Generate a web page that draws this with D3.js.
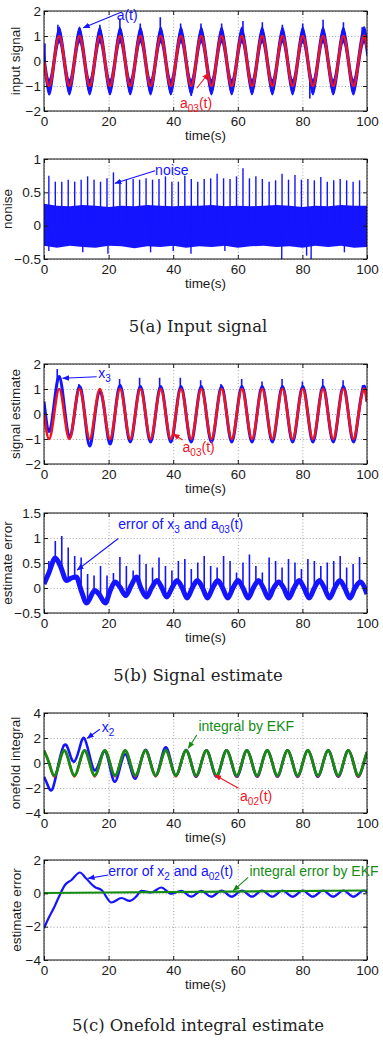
<!DOCTYPE html>
<html>
<head>
<meta charset="utf-8">
<script src="https://cdn.jsdelivr.net/npm/d3@7"></script>
<style>
  body { margin: 0; background: #fff; }
  svg text { font-family: "Liberation Sans", Arial, sans-serif; }
  svg text.caption { font-family: "DejaVu Serif", serif; }
</style>
</head>
<body>
<div id="chart"></div>
<script>
// ---- data ----
const xTicks = [0, 20, 40, 60, 80, 100];

// quarter-period sample times (s)
const tQuarter = [0, 1.57, 3.14, 4.71, 6.28, 7.85, 9.42, 11.0, 12.57, 14.14, 15.71, 17.28, 18.85, 20.42, 21.99, 23.56,
  25.13, 26.7, 28.27, 29.85, 31.42, 32.99, 34.56, 36.13, 37.7, 39.27, 40.84, 42.41, 43.98, 45.55, 47.12, 48.69,
  50.27, 51.84, 53.41, 54.98, 56.55, 58.12, 59.69, 61.26, 62.83, 64.4, 65.97, 67.54, 69.12, 70.69, 72.26, 73.83,
  75.4, 76.97, 78.54, 80.11, 81.68, 83.25, 84.82, 86.39, 87.96, 89.54, 91.11, 92.68, 94.25, 95.82, 97.39, 98.96, 100];

// a03(t), reference signal (panels a and b)
const a03Vals = [0, -1, 0, 1, 0, -1, 0, 1, 0, -1, 0, 1, 0, -1, 0, 1,
  0, -1, 0, 1, 0, -1, 0, 1, 0, -1, 0, 1, 0, -1, 0, 1,
  0, -1, 0, 1, 0, -1, 0, 1, 0, -1, 0, 1, 0, -1, 0, 1,
  0, -1, 0, 1, 0, -1, 0, 1, 0, -1, 0, 1, 0, -1, 0, 1, 0.5];

// a(t), noisy input centre line
const aVals = [0.1, -1.05, 0, 1.05, 0, -1.05, 0, 1.05, 0, -1.05, 0, 1.05, 0, -1.05, 0, 1.05,
  0, -1.05, 0, 1.05, 0, -1.05, 0, 1.05, 0, -1.05, 0, 1.05, 0, -1.05, 0, 1.05,
  0, -1.05, 0, 1.05, 0, -1.05, 0, 1.05, 0, -1.05, 0, 1.05, 0, -1.05, 0, 1.05,
  0, -1.05, 0, 1.05, 0, -1.05, 0, 1.05, 0, -1.05, 0, 1.05, 0, -1.05, 0, 1.05, 0.5];
const aNoiseHalf = 0.3;
const p1SpikeT = [0.3, 4.3, 11.0, 17.3, 23.5, 29.8, 36.0, 42.3, 48.6, 55.0, 61.6, 67.6, 73.8, 80.1, 86.4, 92.7, 98.5];
const p1SpikeTop = [0.7, 1.45, 1.3, 1.45, 1.7, 1.5, 1.75, 1.5, 1.5, 1.5, 1.6, 1.55, 1.45, 1.5, 1.65, 1.55, 1.35];
const p1DipT = [45.6, 82.3];
const p1DipBottom = [-1.4, -1.5];

// noise
const noiseT = [0, 4, 8, 12, 16, 20, 24, 28, 32, 36, 40, 44, 48, 52, 56, 60, 64, 68, 72, 76, 80, 84, 88, 92, 96, 100];
const noiseTop = [0.33, 0.3, 0.29, 0.31, 0.3, 0.28, 0.3, 0.29, 0.31, 0.3, 0.29, 0.3, 0.3, 0.31, 0.29, 0.3, 0.29, 0.3, 0.31, 0.3, 0.28, 0.3, 0.29, 0.31, 0.3, 0.3];
const noiseBottom = [-0.3, -0.33, -0.3, -0.32, -0.33, -0.3, -0.31, -0.34, -0.31, -0.32, -0.3, -0.33, -0.31, -0.32, -0.3, -0.33, -0.31, -0.3, -0.32, -0.31, -0.33, -0.3, -0.32, -0.3, -0.33, -0.32];
const spikeT = [1.5, 3.5, 5.5, 7.5, 9.5, 11.5, 13.5, 15.5, 17.5, 19.5, 21.5, 23.5, 25.5, 27.6, 29.6, 31.6, 33.6, 35.6,
  37.6, 39.6, 41.6, 43.6, 45.6, 47.6, 49.6, 51.6, 53.6, 55.6, 57.6, 59.6, 61.6, 63.6, 65.6, 67.6, 69.7, 71.7,
  73.7, 75.7, 77.7, 79.7, 81.7, 83.7, 85.7, 87.7, 89.7, 91.7, 93.7, 95.7, 97.7];
const noiseSpikeTop = [0.75, 0.66, 0.66, 0.69, 0.66, 0.69, 0.74, 0.69, 0.66, 0.71, 0.8, 0.66, 0.69, 0.7, 0.69, 0.71,
  0.69, 0.7, 0.74, 0.66, 0.66, 0.75, 0.7, 0.66, 0.7, 0.71, 0.78, 0.71, 0.7, 0.74, 0.86, 0.71, 0.74, 0.7, 0.66,
  0.68, 0.78, 0.69, 0.76, 0.69, 0.7, 0.68, 0.73, 0.66, 0.68, 0.7, 0.68, 0.66, 0.68];
const noiseDipT = [1.5, 12.0, 19.8, 33.0, 40.0, 45.5, 56.0, 73.6, 81.3, 82.7, 93.0];
const noiseDipBottom = [-0.38, -0.4, -0.42, -0.4, -0.38, -0.42, -0.38, -0.5, -0.45, -0.5, -0.4];

// x3, signal estimate
const x3Vals = [0.5, -0.7, 0.4, 1.5, 0.3, -0.93, 0, 1.1, 0, -1.28, -0.1, 0.9, 0, -1.2, 0, 1.15,
  0, -1.12, 0, 1.1, 0, -1.12, 0, 1.1, 0, -1.12, 0, 1.1, 0, -1.12, 0, 1.1,
  0, -1.12, 0, 1.1, 0, -1.12, 0, 1.1, 0, -1.12, 0, 1.1, 0, -1.12, 0, 1.1,
  0, -1.12, 0, 1.1, 0, -1.12, 0, 1.1, 0, -1.12, 0, 1.1, 0, -1.12, 0, 1.1, 0.5];
const p3SpikeT = [4.1, 10.8, 23.4, 29.6, 35.8, 42.2, 48.5, 54.8, 61.2, 67.5, 73.7, 80.0, 86.3, 92.6, 98.6];
const p3SpikeTop = [1.8, 1.2, 1.4, 1.45, 1.45, 1.45, 1.35, 1.2, 1.4, 1.3, 1.4, 1.3, 1.4, 1.35, 1.15];

// error of x3 and a03(t)
const errT = [0, 1.5, 3.5, 5, 7, 8.5, 10, 11.5, 13.2, 15.7, 17, 19, 20.5, 22, 23.5, 25.3, 27, 28.6, 30, 31.7,
  33.3, 35, 36.5, 38, 39.6, 41.2, 42.8, 44.3, 45.9, 47.5, 49.1, 50.6, 52.2, 53.8, 55.3, 56.9, 58.5, 60.1, 61.6,
  63.2, 64.8, 66.4, 67.9, 69.5, 71.1, 72.7, 74.2, 75.8, 77.4, 79, 80.5, 82.1, 83.7, 85.3, 86.8, 88.4, 90, 91.6,
  93.1, 94.7, 96.3, 97.9, 100];
const errVals = [0.08, 0.3, 0.6, 0.45, 0.15, 0.2, 0.22, -0.05, -0.3, -0.05, -0.12, -0.3, -0.05, 0.12, 0.02, -0.15,
  0.05, 0.22, 0, -0.18, 0, 0.15, 0, -0.18, 0, 0.15, 0, -0.2, 0, 0.15, 0, -0.2, 0, 0.15, 0, -0.2, 0, 0.15, 0,
  -0.2, 0, 0.15, 0, -0.2, 0, 0.12, 0, -0.2, 0, 0.15, 0, -0.2, 0, 0.15, 0, -0.2, 0, 0.15, 0, -0.2, 0, 0.12, -0.12];
const errSpikeTop = [0.54, 0.94, 1.04, 0.81, 0.64, 0.61, 0.28, 0.25, 0.44, 0.25, 0.3, 0.62, 0.44, 0.35, 0.67, 0.48,
  0.41, 0.61, 0.44, 0.35, 0.54, 0.58, 0.38, 0.51, 0.64, 0.44, 0.41, 0.64, 0.54, 0.31, 0.51, 0.67, 0.44, 0.31,
  0.61, 0.54, 0.41, 0.58, 0.51, 0.38, 0.58, 0.54, 0.44, 0.51, 0.54, 0.64, 0.41, 0.48, 0.62];

// onefold integral
const a02Vals = [1, 0, -1.08, 0, 1, 0, -1.08, 0, 1, 0, -1.08, 0, 1, 0, -1.08, 0,
  1, 0, -1.08, 0, 1, 0, -1.08, 0, 1, 0, -1.08, 0, 1, 0, -1.08, 0,
  1, 0, -1.08, 0, 1, 0, -1.08, 0, 1, 0, -1.08, 0, 1, 0, -1.08, 0,
  1, 0, -1.08, 0, 1, 0, -1.08, 0, 1, 0, -1.08, 0, 1, 0, -1.08, 0, 0.86];
const ekfVals = [1, 0, -1, 0, 1, 0, -1, 0, 1, 0, -1, 0, 1, 0, -1, 0,
  1, 0, -1, 0, 1, 0, -1, 0, 1, 0, -1, 0, 1, 0, -1, 0,
  1, 0, -1, 0, 1, 0, -1, 0, 1, 0, -1, 0, 1, 0, -1, 0,
  1, 0, -1, 0, 1, 0, -1, 0, 1, 0, -1, 0, 1, 0, -1, 0, 0.86];
const x2T = [0, 1.2, 2.6, 4.4, 6.3, 7.9, 9.3, 10.9, 12.4, 14.1, 15.7, 17.3, 18.9, 20.4, 21.9, 23.5, 25.1, 26.7,
  28.3, 29.8, 31.4, 33.0, 34.6, 36.1, 37.7, 39.3, 40.8, 42.4, 44.0, 45.6, 47.1, 48.7, 50.3, 51.8, 53.4, 55.0,
  56.5, 58.1, 59.7, 61.3, 62.8, 64.4, 66.0, 67.5, 69.1, 70.7, 72.3, 73.8, 75.4, 77.0, 78.5, 80.1, 81.7, 83.3,
  84.8, 86.4, 88.0, 89.5, 91.1, 92.7, 94.2, 95.8, 97.4, 99.0, 100];
const x2Vals = [-1.1, -1.8, -2.1, -0.2, 1.45, 0.8, 0.1, 1.1, 2.0, 0.6, -0.6, 0.2, 0.95, -0.3, -1.5, -0.4, 0.7, -0.3,
  -1.25, -0.1, 1.05, 0, -1.0, 0.1, 1.25, 0.1, -1.0, 0, 1.05, 0, -1.1, 0, 1.02, 0, -1.1, 0,
  1.02, 0, -1.1, 0, 1.02, 0, -1.1, 0, 1.02, 0, -1.1, 0, 1.02, 0, -1.1, 0, 1.02, 0,
  -1.1, 0, 1.02, 0, -1.1, 0, 1.02, 0, -1.1, 0, 0.86];

// integral errors
const e2T = [0, 1.5, 3, 5, 6.5, 8.5, 11.1, 13, 15.7, 17.8, 20.9, 24, 26.5, 28.5, 30.1, 33.2, 36.3, 39.4, 42.5, 45.6,
  48.7, 51.8, 55, 58.1, 61.3, 64.4, 67.5, 70.7, 73.8, 77, 80.1, 83.2, 86.4, 89.5, 92.7, 95.8, 99, 100];
const e2Vals = [-2.1, -1.45, -0.9, -0.05, 0.5, 0.8, 1.25, 0.9, 0.38, 0.2, -0.55, -0.28, -0.45, -0.2, 0.15, 0.05, 0.35,
  -0.02, 0.15, -0.2, 0.15, -0.2, 0.17, -0.2, 0.17, -0.2, 0.17, -0.2, 0.17, -0.2, 0.17, -0.2, 0.17, -0.2, 0.17, -0.2, 0.17, 0.05];
const ekfErrT = [0, 100];
const ekfErrVals = [0.02, 0.17];

// ---- layout ----
const width = 383, height = 1040;
const plotLeft = 44, plotRight = 367, plotH = 100;
const blue = "#1414ff", red = "#f0141e", green = "#148c14";

const svg = d3.select("#chart").append("svg")
  .attr("width", width)
  .attr("height", height);
const defs = svg.append("defs");

[["b", blue], ["r", red], ["g", green]].forEach(([k, c]) => {
  defs.append("marker")
    .attr("id", "ah-" + k)
    .attr("viewBox", "0 0 10 10")
    .attr("refX", 9).attr("refY", 5)
    .attr("markerWidth", 7).attr("markerHeight", 7)
    .attr("markerUnits", "userSpaceOnUse")
    .attr("orient", "auto")
    .append("path").attr("d", "M0,1 L10,5 L0,9 z").attr("fill", c);
});

const x = d3.scaleLinear().domain([0, 100]).range([plotLeft, plotRight]);

function valueAt(ts, vs, t) {
  const i = d3.bisectRight(ts, t);
  if (i <= 0) return vs[0];
  if (i >= ts.length) return vs[vs.length - 1];
  const f = (t - ts[i - 1]) / (ts[i] - ts[i - 1]);
  return vs[i - 1] + f * (vs[i] - vs[i - 1]);
}

function makePanel(id, top, yDomain, yTicks, ylabel, ylabelX) {
  const y = d3.scaleLinear().domain(yDomain).range([top + plotH, top]);
  defs.append("clipPath").attr("id", "clip" + id)
    .append("rect")
    .attr("x", plotLeft).attr("y", top)
    .attr("width", plotRight - plotLeft).attr("height", plotH);

  const gridG = svg.append("g");
  const dataG = svg.append("g").attr("clip-path", `url(#clip${id})`);
  const axisG = svg.append("g");
  const annG = svg.append("g");

  // dotted grid
  gridG.append("g")
    .attr("transform", `translate(0,${top + plotH})`)
    .call(d3.axisBottom(x).tickValues(xTicks).tickSize(-plotH).tickFormat(""))
    .call(s => s.select(".domain").remove());
  gridG.append("g")
    .attr("transform", `translate(${plotLeft},0)`)
    .call(d3.axisLeft(y).tickValues(yTicks).tickSize(-(plotRight - plotLeft)).tickFormat(""))
    .call(s => s.select(".domain").remove());
  gridG.selectAll("line")
    .attr("stroke", "#8a8a8a")
    .attr("stroke-width", 0.8)
    .attr("stroke-dasharray", "1,2.2");

  // axes with inward ticks
  const fmt = d3.format("~g");
  axisG.append("g")
    .attr("transform", `translate(0,${top + plotH})`)
    .call(d3.axisBottom(x).tickValues(xTicks).tickSizeInner(-4).tickSizeOuter(0).tickPadding(5).tickFormat(fmt));
  axisG.append("g")
    .attr("transform", `translate(0,${top})`)
    .call(d3.axisTop(x).tickValues(xTicks).tickSizeInner(-4).tickSizeOuter(0).tickFormat(""));
  axisG.append("g")
    .attr("transform", `translate(${plotLeft},0)`)
    .call(d3.axisLeft(y).tickValues(yTicks).tickSizeInner(-4).tickSizeOuter(0).tickPadding(3).tickFormat(fmt));
  axisG.append("g")
    .attr("transform", `translate(${plotRight},0)`)
    .call(d3.axisRight(y).tickValues(yTicks).tickSizeInner(-4).tickSizeOuter(0).tickFormat(""));
  axisG.selectAll(".domain").remove();
  axisG.selectAll("g").attr("color", "#1a1a1a");
  axisG.selectAll("text")
    .attr("font-size", 13.5);

  axisG.append("rect")
    .attr("x", plotLeft).attr("y", top)
    .attr("width", plotRight - plotLeft).attr("height", plotH)
    .attr("fill", "none").attr("stroke", "#111").attr("stroke-width", 1);

  axisG.append("text")
    .attr("x", (plotLeft + plotRight) / 2)
    .attr("y", top + plotH + 29)
    .attr("text-anchor", "middle")
    .attr("font-size", 13.5)
    .attr("fill", "#1a1a1a")
    .text("time(s)");

  axisG.append("text")
    .attr("transform", `translate(${ylabelX},${top + plotH / 2}) rotate(-90)`)
    .attr("text-anchor", "middle")
    .attr("font-size", 13.5)
    .attr("fill", "#1a1a1a")
    .text(ylabel);

  return { y, dataG, annG };
}

function drawLine(p, ts, vs, color, w, curve) {
  p.dataG.append("path")
    .datum(vs)
    .attr("fill", "none")
    .attr("stroke", color)
    .attr("stroke-width", w)
    .attr("stroke-linejoin", "round")
    .attr("d", d3.line()
      .x((d, i) => x(ts[i]))
      .y(d => p.y(d))
      .curve(curve || d3.curveNatural));
}

function drawSpikes(p, ts, ends, baseFn, color, w) {
  p.dataG.append("g").selectAll("line")
    .data(ts)
    .join("line")
    .attr("x1", d => x(d)).attr("x2", d => x(d))
    .attr("y1", d => p.y(baseFn(d)))
    .attr("y2", (d, i) => p.y(ends[i]))
    .attr("stroke", color)
    .attr("stroke-width", w);
}

// text parts: [string, isSubscript]
function annotate(p, parts, color, textAt, tail, tip, mk) {
  const t = p.annG.append("text")
    .attr("x", x(textAt[0]))
    .attr("y", p.y(textAt[1]))
    .attr("font-size", 14)
    .attr("fill", color);
  let shifted = false;
  parts.forEach(([s, sub]) => {
    const span = t.append("tspan").text(s);
    if (sub) { span.attr("font-size", 10).attr("dy", shifted ? 0 : 4); shifted = true; }
    else if (shifted) { span.attr("dy", -4); shifted = false; }
  });
  p.annG.append("line")
    .attr("x1", x(tail[0])).attr("y1", p.y(tail[1]))
    .attr("x2", x(tip[0])).attr("y2", p.y(tip[1]))
    .attr("stroke", color)
    .attr("stroke-width", 1.1)
    .attr("marker-end", `url(#ah-${mk})`);
}

// ---- panel 1: input signal ----
const p1 = makePanel(1, 11, [-2, 2], [-2, -1, 0, 1, 2], "input signal", 20);
p1.dataG.append("path")
  .datum(aVals)
  .attr("fill", blue)
  .attr("stroke", blue)
  .attr("stroke-width", 1.4)
  .attr("d", d3.area()
    .x((d, i) => x(tQuarter[i]))
    .y0(d => p1.y(d - aNoiseHalf))
    .y1(d => p1.y(d + aNoiseHalf))
    .curve(d3.curveNatural));
drawSpikes(p1, p1SpikeT, p1SpikeTop, t => valueAt(tQuarter, aVals, t), blue, 1.6);
drawSpikes(p1, p1DipT, p1DipBottom, t => valueAt(tQuarter, aVals, t), blue, 1.6);
drawLine(p1, tQuarter, a03Vals, red, 2.6);
annotate(p1, [["a(t)", false]], blue, [22.5, 1.66], [22.9, 1.9], [12.2, 1.33], "b");
annotate(p1, [["a", false], ["03", true], ["(t)", false]], red, [42.1, -1.88], [47.3, -1.09], [50.9, -0.49], "r");

// ---- panel 2: noise ----
const p2 = makePanel(2, 159, [-0.5, 1], [-0.5, 0, 0.5, 1], "nonise", 12);
p2.dataG.append("path")
  .datum(noiseTop)
  .attr("fill", blue)
  .attr("d", d3.area()
    .x((d, i) => x(noiseT[i]))
    .y0((d, i) => p2.y(noiseBottom[i]))
    .y1(d => p2.y(d)));
drawSpikes(p2, spikeT, noiseSpikeTop, () => 0, blue, 1.4);
drawSpikes(p2, noiseDipT, noiseDipBottom, () => 0, blue, 1.4);
annotate(p2, [["noise", false]], blue, [34.4, 0.76], [34.4, 0.825], [22.0, 0.635], "b");

// ---- panel 3: signal estimate ----
const p3 = makePanel(3, 364, [-2, 2], [-2, -1, 0, 1, 2], "signal estimate", 20);
drawLine(p3, tQuarter, x3Vals, blue, 3);
drawSpikes(p3, p3SpikeT, p3SpikeTop, t => valueAt(tQuarter, x3Vals, t), blue, 1.6);
drawLine(p3, tQuarter, a03Vals, red, 2.6);
annotate(p3, [["x", false], ["3", true]], blue, [16.8, 1.44], [16.3, 1.49], [5.8, 1.43], "b");
annotate(p3, [["a", false], ["03", true], ["(t)", false]], red, [42.9, -1.52], [42.9, -1.04], [40.0, -0.8], "r");

// ---- panel 4: estimate error ----
const p4 = makePanel(4, 513, [-0.5, 1.5], [-0.5, 0, 0.5, 1, 1.5], "estimate error", 12);
drawSpikes(p4, spikeT, errSpikeTop, t => valueAt(errT, errVals, t), blue, 1.6);
drawLine(p4, errT, errVals, blue, 5, d3.curveMonotoneX);
annotate(p4, [["error of x", false], ["3", true], [" and a", false], ["03", true], ["(t)", false]], blue,
  [23.0, 1.18], [23.0, 0.99], [10.3, 0.36], "b");

// ---- panel 5: onefold integral ----
const p5 = makePanel(5, 713, [-4, 4], [-4, -2, 0, 2, 4], "onefold integral", 20);
drawLine(p5, x2T, x2Vals, blue, 2.6);
drawLine(p5, tQuarter, a02Vals, red, 2.4);
drawLine(p5, tQuarter, ekfVals, green, 2.8);
annotate(p5, [["x", false], ["2", true]], blue, [17.9, 2.48], [17.3, 2.7], [13.4, 1.98], "b");
annotate(p5, [["integral by EKF", false]], green, [47.8, 2.6], [47.3, 2.24], [44.7, 1.18], "g");
annotate(p5, [["a", false], ["02", true], ["(t)", false]], red, [60.7, -3.04], [60.2, -2.02], [52.9, -0.96], "r");

// ---- panel 6: integral error ----
const p6 = makePanel(6, 860, [-4, 2], [-4, -2, 0, 2], "estimate error", 21);
drawLine(p6, e2T, e2Vals, blue, 2.2, d3.curveMonotoneX);
drawLine(p6, ekfErrT, ekfErrVals, green, 2.2, d3.curveLinear);
annotate(p6, [["error of x", false], ["2", true], [" and a", false], ["02", true], ["(t)", false]], blue,
  [19.9, 1.04], [19.9, 1.1], [13.7, 0.9], "b");
annotate(p6, [["integral error by EKF", false]], green, [63.6, 1.04], [63.2, 0.96], [58.6, 0.16], "g");

// ---- captions ----
const captions = [["5(a) Input signal", 332], ["5(b) Signal estimate", 681], ["5(c) Onefold integral estimate", 1031]];
svg.append("g").selectAll("text")
  .data(captions)
  .join("text")
  .attr("class", "caption")
  .attr("x", 198)
  .attr("y", d => d[1])
  .attr("text-anchor", "middle")
  .attr("font-size", 16.5)
  .attr("fill", "#222")
  .text(d => d[0]);
</script>
</body>
</html>
